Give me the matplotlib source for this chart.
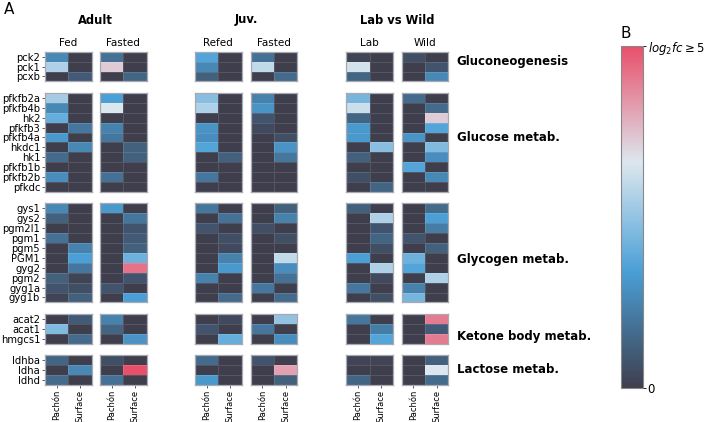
import numpy as np
import matplotlib
matplotlib.use("Agg")
import matplotlib.pyplot as plt
from matplotlib.colors import LinearSegmentedColormap

##### DOC data: log2 fold change per gene (clipped at 5)
genes_gluconeo = ["pck2", "pck1", "pcxb"]
genes_glucose = ["pfkfb2a", "pfkfb4b", "hk2", "pfkfb3", "pfkfb4a", "hkdc1",
                 "hk1", "pfkfb1b", "pfkfb2b", "pfkdc"]
genes_glycogen = ["gys1", "gys2", "pgm2l1", "pgm1", "pgm5", "PGM1", "gyg2",
                  "pgm2", "gyg1a", "gyg1b"]
genes_ketone = ["acat2", "acat1", "hmgcs1"]
genes_lactose = ["ldhba", "ldha", "ldhd"]

pathways = ["Gluconeogenesis", "Glucose metab.", "Glycogen metab.",
            "Ketone body metab.", "Lactose metab."]
populations = ["Pachón", "Surface"]

# [Pachón, Surface] per gene, same order as the gene lists above
adult_fed = [[1.3, 0], [2.8, 0], [0, 0.5],
             [2.7, 0], [1.3, 0], [2.0, 0], [0, 1.0], [1.6, 0], [0, 1.3], [0.8, 0], [0, 0], [1.4, 0], [0, 0],
             [1.3, 0], [0.6, 0], [0, 0], [0.9, 0], [0, 1.2], [0, 1.7], [0, 1.0], [0.6, 0.1], [0.4, 0.3], [0.1, 0.6],
             [0, 0.5], [2.3, 0], [0, 0.8],
             [0.7, 0], [0, 1.3], [0.8, 0]]
adult_fasted = [[0.9, 0], [3.6, 0], [0, 0.7],
                [1.7, 0], [3.3, 0], [0, 0], [1.2, 0], [1.0, 0], [0, 0.6], [0, 0.6], [0, 0], [0.9, 0], [0, 0],
                [1.6, 0], [0, 1.0], [0, 0.4], [0, 0.5], [0, 0.6], [0, 2.1], [0, 4.6], [0, 0.4], [0.4, 0], [0, 1.7],
                [1.2, 0], [0.7, 0], [0, 1.5],
                [0.3, 0], [0, 5.0], [0.9, 0]]
juv_refed = [[1.8, 0], [1.3, 0], [0.6, 0],
             [2.4, 0], [2.8, 0], [0, 0], [1.5, 0], [1.4, 0], [1.8, 0], [0, 0.6], [0, 0], [1.0, 0], [0, 0],
             [1.0, 0], [0, 0.9], [0.4, 0], [0, 0.3], [0, 0.2], [0, 1.2], [0, 1.6], [1.2, 0], [0, 0], [0, 0.8],
             [0, 0.2], [0.4, 0], [0, 2.0],
             [0.8, 0], [0, 0], [1.6, 0]]
juv_fasted = [[0.9, 0], [3.0, 0], [0, 0.8],
              [1.2, 0], [1.5, 0], [0.4, 0], [0.2, 0], [0, 0.3], [0, 1.5], [0, 1.0], [0, 0], [0, 0], [0, 0],
              [0, 0.6], [0, 1.2], [0.3, 0], [0, 0.3], [0, 0], [0, 3.0], [0, 1.4], [0, 0.9], [1.0, 0], [0, 0.8],
              [0, 2.5], [1.0, 0], [0, 1.4],
              [0.4, 0], [0, 4.1], [0, 0.6]]
lab = [[0.1, 0], [3.2, 0], [0.7, 0],
       [2.2, 0], [3.1, 0], [0.7, 0], [1.6, 0], [1.6, 0], [0, 2.4], [0.6, 0], [0, 0], [0.3, 0], [0, 0.7],
       [0.6, 0], [0, 2.8], [0, 0.4], [0, 0.7], [0, 0.3], [1.7, 0], [0, 2.8], [0, 0.2], [1.0, 0], [0, 0.3],
       [1.0, 0], [0, 1.1], [0, 1.8],
       [0.1, 0.1], [0, 0], [0.7, 0]]
wild = [[0.3, 0], [0, 0.4], [0, 1.3],
        [0.8, 0], [0, 0.8], [0, 3.6], [0, 1.8], [1.5, 0], [0, 2.3], [0, 1.4], [1.8, 0], [0, 1.3], [0, 0],
        [0, 0.8], [0, 1.7], [0, 1.1], [0.4, 0], [0, 0.6], [2.1, 0], [1.8, 0], [0, 2.8], [1.2, 0], [2.2, 0],
        [0, 4.5], [0, 0.5], [0, 4.5],
        [0, 0.6], [0, 3.3], [0, 0.8]]

conditions = ["Fed", "Fasted", "Refed", "Fasted", "Lab", "Wild"]
experiments = ["Adult", "Juv.", "Lab vs Wild"]
########################################

gene_groups = [genes_gluconeo, genes_glucose, genes_glycogen, genes_ketone, genes_lactose]
panels = [np.array(p) for p in [adult_fed, adult_fasted, juv_refed, juv_fasted, lab, wild]]

cmap = LinearSegmentedColormap.from_list(
    "fc", [(0.0, "#3f3e4d"), (0.34, "#4a9fd6"), (0.66, "#dce7ee"), (1.0, "#e84f6a")])

##### DOC layout in pixels
W, H = 705, 422
fig = plt.figure(figsize=(W / 100, H / 100), dpi=100)


def px_axes(x0, y0, w, h):
    return fig.add_axes([x0 / W, 1 - (y0 + h) / H, w / W, h / H])


panel_x = [45, 100, 195, 250.7, 346.3, 401.7]
panel_w = 46.7
row_h = 9.9
group_gap = 11.5
top = 51.7
label_row = [1.0, 4.5, 5.7, 2.3, 1.5]  # where the pathway text sits in each block

start = 0
y0 = top
for g, genes in enumerate(gene_groups):
    n = len(genes)
    h = n * row_h
    for p, data in enumerate(panels):
        ax = px_axes(panel_x[p], y0, panel_w, h)
        block = data[start:start + n]
        ax.pcolormesh(block, cmap=cmap, vmin=0, vmax=5,
                      edgecolors=(1, 1, 1, 0.12), linewidth=0.5)
        ax.set_xlim(0, 2)
        ax.set_ylim(n, 0)
        for s in ax.spines.values():
            s.set_color("#a9a9b2")
            s.set_linewidth(0.9)
        ax.tick_params(length=2.5, width=0.6, color="#444444", pad=1)
        if p == 0:
            ax.set_yticks(np.arange(n) + 0.5)
            ax.set_yticklabels(genes, fontsize=7.2)
        else:
            ax.set_yticks([])
        if g == len(gene_groups) - 1:
            ax.set_xticks([0.5, 1.5])
            ax.set_xticklabels(populations, rotation=90, fontsize=6)
        else:
            ax.set_xticks([])
        if p == len(panels) - 1:
            ax.text(2.36, label_row[g], pathways[g], fontsize=8.5, fontweight="bold",
                    va="center", ha="left", transform=ax.transData)
    start += n
    y0 += h + group_gap

# column and experiment headers
for p, c in enumerate(conditions):
    fig.text((panel_x[p] + panel_w / 2) / W, 1 - 43 / H, c, fontsize=7.5,
             ha="center", va="center")
for e, name in enumerate(experiments):
    xc = (panel_x[2 * e] + panel_x[2 * e + 1] + panel_w) / 2
    fig.text(xc / W, 1 - 20 / H, name, fontsize=8.3, fontweight="bold",
             ha="center", va="center")

fig.text(4 / W, 1 - 9 / H, "A", fontsize=11, ha="left", va="center")
fig.text(621 / W, 1 - 34 / H, "B", fontsize=11, ha="left", va="center")

##### DOC colorbar
cax = px_axes(620.7, 45.7, 22, 342.6)
sm = plt.cm.ScalarMappable(cmap=cmap, norm=plt.Normalize(0, 5))
cb = fig.colorbar(sm, cax=cax, ticks=[0, 5])
cb.ax.set_yticklabels(["0", r"$log_2fc \geq 5$"], fontsize=8.5)
cb.ax.tick_params(length=2.5, width=0.6, pad=1)
cb.outline.set_edgecolor("#888888")
cb.outline.set_linewidth(0.8)

plt.savefig("out.png", dpi=100)
